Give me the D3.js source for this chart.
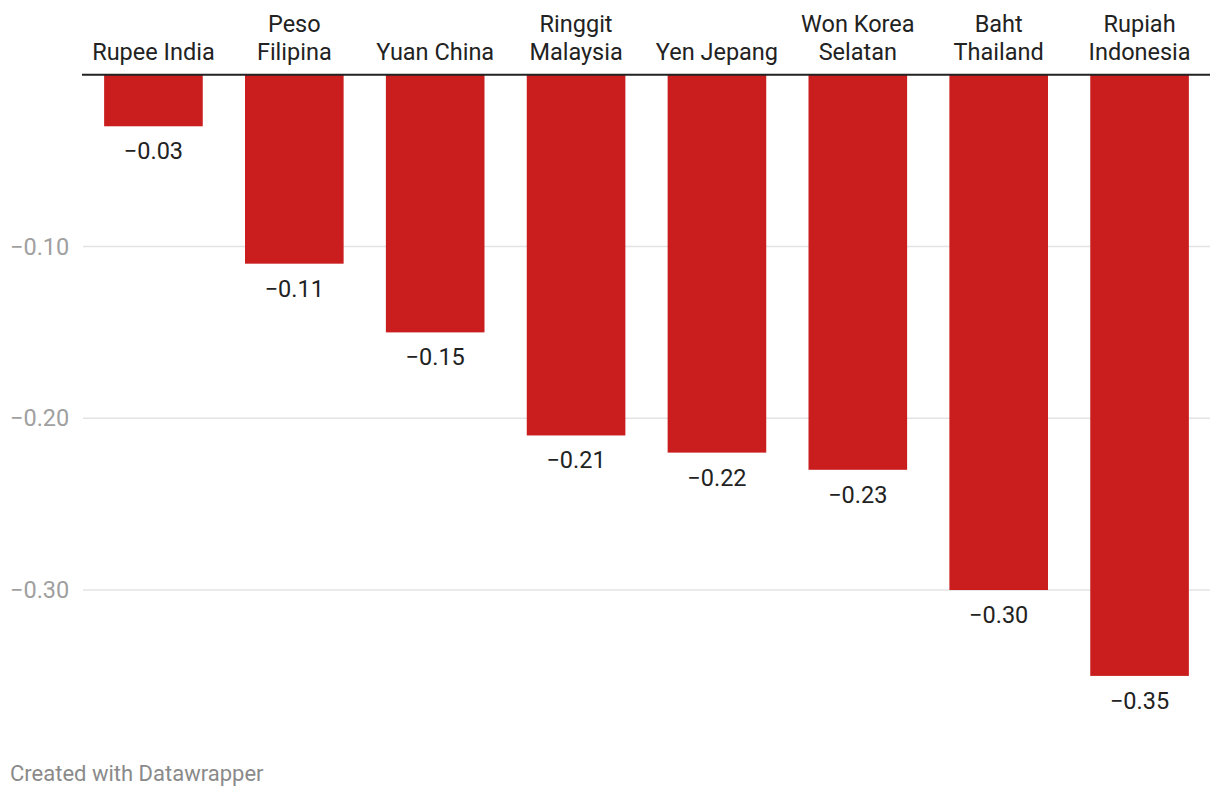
<!DOCTYPE html>
<html>
<head>
<meta charset="utf-8">
<script src="https://cdn.jsdelivr.net/npm/d3@7"></script>
<style>
  body { margin: 0; background: #fff; }
  svg text { font-family: Roboto, "Noto Sans", sans-serif; }
</style>
</head>
<body>
<svg id="chart"></svg>
<script>
const categories = [
  ["Rupee India"],
  ["Peso", "Filipina"],
  ["Yuan China"],
  ["Ringgit", "Malaysia"],
  ["Yen Jepang"],
  ["Won Korea", "Selatan"],
  ["Baht", "Thailand"],
  ["Rupiah", "Indonesia"]
];
const values = [-0.03, -0.11, -0.15, -0.21, -0.22, -0.23, -0.30, -0.35];
const ticks = [-0.10, -0.20, -0.30];

const width = 1220;
const height = 796;
const fontSize = 23.5;

const svg = d3.select("#chart")
  .attr("width", width)
  .attr("height", height);

const x = d3.scaleBand()
  .domain(categories.map(d => d.join(" ")))
  .range([83, 1210])
  .paddingInner(0.3)
  .paddingOuter(0.15);

const y = d3.scaleLinear()
  .domain([0, -0.35])
  .range([74.75, 675.9]);

const fmt = v => (v < 0 ? "\u2212" : "") + Math.abs(v).toFixed(2);

// gridlines
svg.append("g")
  .selectAll("line")
  .data(ticks)
  .join("line")
  .attr("x1", 83)
  .attr("x2", 1210)
  .attr("y1", d => y(d))
  .attr("y2", d => y(d))
  .attr("stroke", "#e3e3e3")
  .attr("stroke-width", 1.5);

// tick labels
svg.append("g")
  .selectAll("text")
  .data(ticks)
  .join("text")
  .attr("x", 10)
  .attr("y", d => y(d))
  .attr("dy", "0.35em")
  .attr("fill", "#a0a0a0")
  .attr("font-size", fontSize)
  .text(d => fmt(d));

// bars
svg.append("g")
  .selectAll("rect")
  .data(values)
  .join("rect")
  .attr("x", (d, i) => x(categories[i].join(" ")))
  .attr("width", x.bandwidth())
  .attr("y", y(0))
  .attr("height", d => y(d) - y(0))
  .attr("fill", "#c91d1e");

// baseline
svg.append("line")
  .attr("x1", 82)
  .attr("x2", 1210)
  .attr("y1", y(0))
  .attr("y2", y(0))
  .attr("stroke", "#222")
  .attr("stroke-width", 2);

// value labels
svg.append("g")
  .selectAll("text")
  .data(values)
  .join("text")
  .attr("x", (d, i) => x(categories[i].join(" ")) + x.bandwidth() / 2)
  .attr("y", d => y(d) + 33)
  .attr("text-anchor", "middle")
  .attr("fill", "#222")
  .attr("font-size", fontSize)
  .text(d => fmt(d));

// category labels
const cat = svg.append("g")
  .selectAll("text")
  .data(categories)
  .join("text")
  .attr("x", d => x(d.join(" ")) + x.bandwidth() / 2)
  .attr("y", d => 60 - (d.length - 1) * 28)
  .attr("text-anchor", "middle")
  .attr("fill", "#222")
  .attr("font-size", fontSize);

cat.selectAll("tspan")
  .data(d => d)
  .join("tspan")
  .attr("x", function() { return d3.select(this.parentNode).attr("x"); })
  .attr("dy", (d, i) => i === 0 ? 0 : 28)
  .text(d => d);

// footer
svg.append("text")
  .attr("x", 10)
  .attr("y", 781)
  .attr("fill", "#8a8a8a")
  .attr("font-size", 22)
  .text("Created with Datawrapper");
</script>
</body>
</html>
